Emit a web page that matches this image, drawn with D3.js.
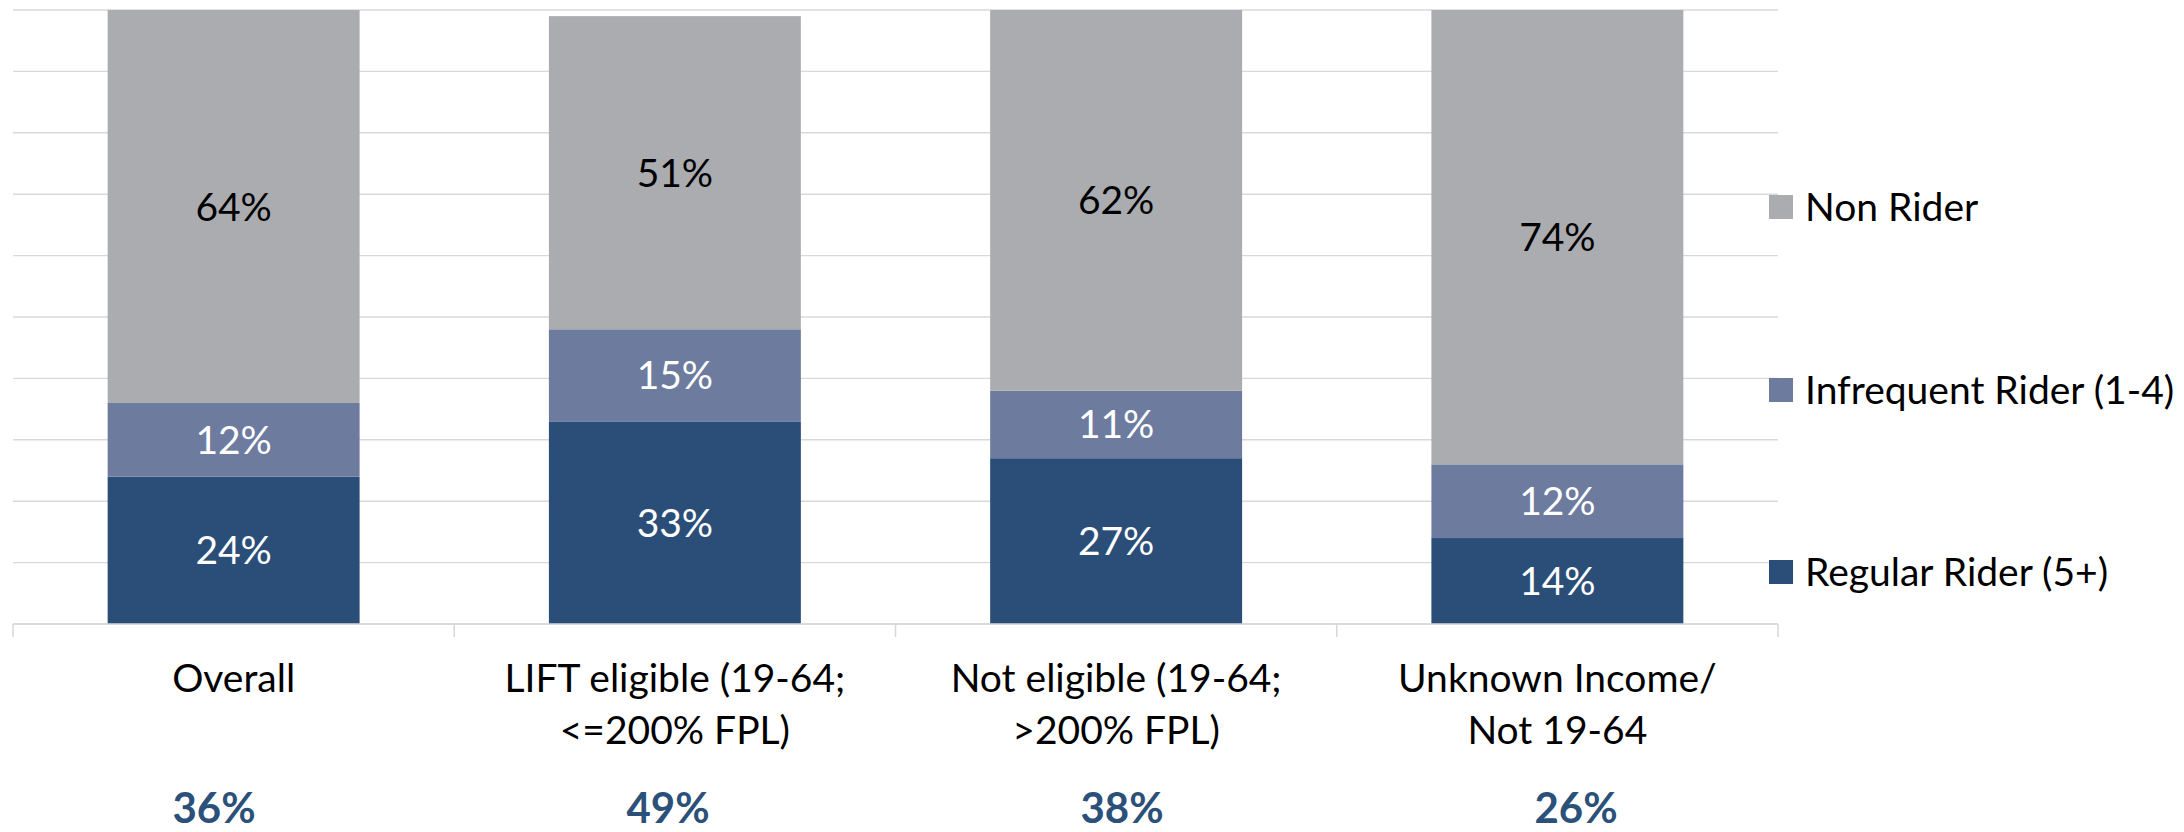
<!DOCTYPE html>
<html>
<head>
<meta charset="utf-8">
<script src="https://cdn.jsdelivr.net/npm/d3@7"></script>
<style>
  html, body { margin: 0; padding: 0; background: #fff; overflow: hidden; }
  svg text { font-family: Lato, "Open Sans", sans-serif; }
</style>
</head>
<body>
<svg id="chart" width="2184" height="832"></svg>
<script>
// Ridership share by eligibility group (stacked, percent)
const categories = [
  ["Overall"],
  ["LIFT eligible (19-64;", "<=200% FPL)"],
  ["Not eligible (19-64;", ">200% FPL)"],
  ["Unknown Income/", "Not 19-64"]
];
const seriesNames = ["Regular Rider (5+)", "Infrequent Rider (1-4)", "Non Rider"];
const regularRider = [24, 33, 27, 14];
const infrequentRider = [12, 15, 11, 12];
const nonRider = [64, 51, 62, 74];
const anyRidership = ["36%", "49%", "38%", "26%"];
const yTicks = [0, 10, 20, 30, 40, 50, 60, 70, 80, 90, 100];

const colors = ["#2a4e78", "#6d7b9f", "#abacb0"];
const labelColors = ["#ffffff", "#ffffff", "#000000"];
const fontSize = 39;

const svg = d3.select("#chart");
const plot = { left: 13, right: 1778, top: 10, bottom: 624 };

const x = d3.scaleBand()
  .domain(d3.range(categories.length))
  .range([plot.left, plot.right])
  .paddingInner(0.429)
  .paddingOuter(0.2145);

const y = d3.scaleLinear().domain([0, 100]).range([plot.bottom, plot.top]);

// Horizontal gridlines
svg.append("g")
  .selectAll("line")
  .data(yTicks)
  .join("line")
  .attr("x1", plot.left)
  .attr("x2", plot.right)
  .attr("y1", d => y(d))
  .attr("y2", d => y(d))
  .attr("stroke", "#d9d9d9")
  .attr("stroke-width", 1.4);

// Stacked series
const rows = categories.map((c, i) => ({
  i,
  [seriesNames[0]]: regularRider[i],
  [seriesNames[1]]: infrequentRider[i],
  [seriesNames[2]]: nonRider[i]
}));
const stacked = d3.stack().keys(seriesNames)(rows);

const layers = svg.append("g")
  .selectAll("g")
  .data(stacked)
  .join("g")
  .attr("fill", (d, k) => colors[k]);

layers.selectAll("rect")
  .data(d => d)
  .join("rect")
  .attr("x", d => x(d.data.i))
  .attr("width", x.bandwidth())
  .attr("y", d => y(d[1]))
  .attr("height", d => y(d[0]) - y(d[1]));

// Segment value labels
svg.append("g")
  .selectAll("g")
  .data(stacked)
  .join("g")
  .attr("fill", (d, k) => labelColors[k])
  .selectAll("text")
  .data(d => d)
  .join("text")
  .attr("x", d => x(d.data.i) + x.bandwidth() / 2)
  .attr("y", d => (y(d[0]) + y(d[1])) / 2)
  .attr("dy", "0.36em")
  .attr("text-anchor", "middle")
  .attr("font-size", fontSize)
  .text(d => (d[1] - d[0]) + "%");

// Category axis: baseline and boundary ticks
const axisG = svg.append("g");
axisG.append("line")
  .attr("x1", plot.left).attr("x2", plot.right)
  .attr("y1", y(0)).attr("y2", y(0))
  .attr("stroke", "#d9d9d9").attr("stroke-width", 1.6);
axisG.selectAll("line.tick")
  .data(d3.range(categories.length + 1))
  .join("line")
  .attr("class", "tick")
  .attr("x1", i => plot.left + i * x.step())
  .attr("x2", i => plot.left + i * x.step())
  .attr("y1", y(0))
  .attr("y2", y(0) + 13)
  .attr("stroke", "#d9d9d9").attr("stroke-width", 1.6);

// Category labels (wrapped lines)
const catG = svg.append("g")
  .selectAll("text")
  .data(categories)
  .join("text")
  .attr("text-anchor", "middle")
  .attr("font-size", fontSize)
  .attr("fill", "#000");
catG.selectAll("tspan")
  .data((lines, i) => lines.map(t => ({ t, i })))
  .join("tspan")
  .attr("x", d => x(d.i) + x.bandwidth() / 2)
  .attr("y", (d, j) => 692 + j * 52)
  .text(d => d.t);

// Total riders row, laid out on its own evenly spaced positions
const totalsX = d3.scalePoint()
  .domain(d3.range(anyRidership.length))
  .range([214, 1576]);
svg.append("g")
  .selectAll("text")
  .data(anyRidership)
  .join("text")
  .attr("x", (d, i) => totalsX(i))
  .attr("y", 823)
  .attr("text-anchor", "middle")
  .attr("font-size", 42)
  .attr("font-weight", "bold")
  .attr("fill", "#2b5079")
  .text(d => d);

// Legend (top to bottom: Non Rider, Infrequent, Regular)
const legendY = [572, 390, 207];
const legend = svg.append("g")
  .selectAll("g")
  .data(seriesNames)
  .join("g")
  .attr("transform", (d, k) => `translate(1769, ${legendY[k]})`);
legend.append("rect")
  .attr("x", 0).attr("y", -12)
  .attr("width", 24).attr("height", 24)
  .attr("fill", (d, k) => colors[k]);
legend.append("text")
  .attr("x", 36)
  .attr("dy", "0.36em")
  .attr("font-size", fontSize)
  .attr("fill", "#000")
  .text(d => d);
</script>
</body>
</html>
